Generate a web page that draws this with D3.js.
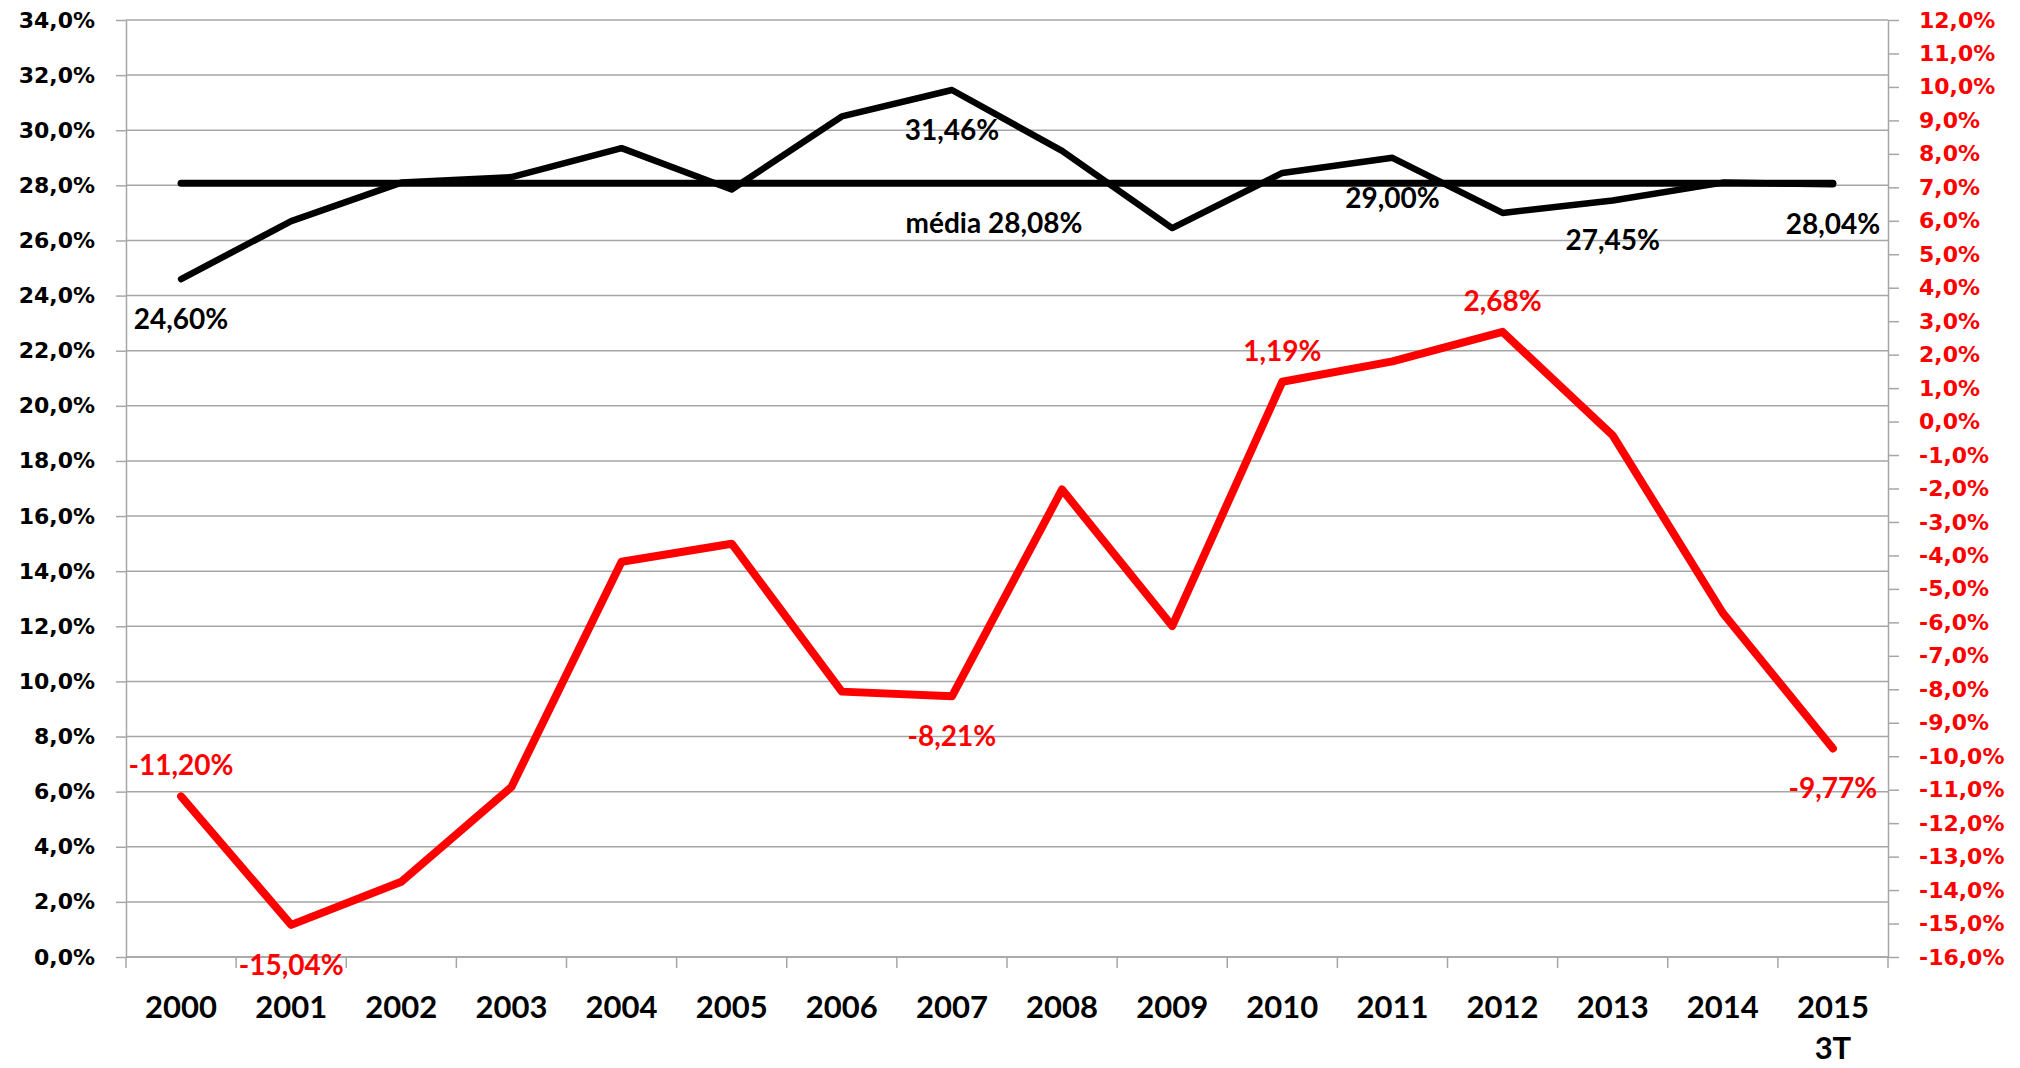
<!DOCTYPE html>
<html>
<head>
<meta charset="utf-8">
<script src="https://cdn.jsdelivr.net/npm/d3@7"></script>
<style>
  body { margin: 0; background: #fff; }
  svg { display: block; }
</style>
</head>
<body>
<div id="chart"></div>
<script>
// categorias
const anos = ["2000", "2001", "2002", "2003", "2004", "2005", "2006", "2007",
              "2008", "2009", "2010", "2011", "2012", "2013", "2014", "2015"];
const subRotulos = { "2015": "3T" };

// linha preta (eixo esquerdo)
const taxa = [24.60, 26.70, 28.10, 28.30, 29.35, 27.85, 30.50, 31.46,
              29.25, 26.45, 28.45, 29.00, 27.00, 27.45, 28.10, 28.04];
const media = 28.08;

// linha vermelha (eixo direito)
const variacao = [-11.20, -15.04, -13.75, -10.92, -4.19, -3.65, -8.07, -8.21,
                  -2.03, -6.11, 1.19, 1.80, 2.68, -0.41, -5.72, -9.77];

// ticks
const ticksEsq = [0, 2, 4, 6, 8, 10, 12, 14, 16, 18, 20, 22, 24, 26, 28, 30, 32, 34];
const ticksDir = [-16, -15, -14, -13, -12, -11, -10, -9, -8, -7, -6, -5, -4, -3, -2,
                  -1, 0, 1, 2, 3, 4, 5, 6, 7, 8, 9, 10, 11, 12];

// quais pontos têm rótulo
const rotulosTaxa = [0, 7, 11, 13, 15];
const rotulosVar = [[0, "acima"], [1, "abaixo"], [7, "abaixo"], [10, "acima"], [12, "acima"], [15, "abaixo"]];

const width = 2020, height = 1068;
const margemEsq = 126, margemDir = 1888, margemSup = 20, margemInf = 957;
const cinza = "#a6a6a6";
const vermelho = "#ff0000";

const fmt1 = d => d.toFixed(1).replace(".", ",") + "%";
const fmt2 = d => d.toFixed(2).replace(".", ",") + "%";

const svg = d3.select("#chart").append("svg")
  .attr("width", width)
  .attr("height", height);

const x = d3.scaleBand().domain(anos).range([margemEsq, margemDir]).padding(0);
const xc = d => x(d) + x.bandwidth() / 2;
const yL = d3.scaleLinear().domain([0, 34]).range([margemInf, margemSup]);
const yR = d3.scaleLinear().domain([-16, 12]).range([margemInf, margemSup]);

// grade
svg.append("g")
  .selectAll("line")
  .data(ticksEsq)
  .join("line")
  .attr("x1", margemEsq)
  .attr("x2", margemDir)
  .attr("y1", d => yL(d))
  .attr("y2", d => yL(d))
  .attr("stroke", cinza)
  .attr("stroke-width", 1.5);

// eixo esquerdo
const eixoEsq = svg.append("g")
  .attr("transform", `translate(${margemEsq},0)`)
  .call(d3.axisLeft(yL).tickValues(ticksEsq).tickFormat(fmt1).tickSize(10).tickSizeOuter(0).tickPadding(21));
eixoEsq.selectAll("line, path").attr("stroke", cinza).attr("stroke-width", 1.5);
eixoEsq.selectAll("text")
  .style("font-family", "DejaVu Sans")
  .style("font-weight", "bold")
  .style("font-size", "22px")
  .attr("fill", "#000");

// eixo direito
const eixoDir = svg.append("g")
  .attr("transform", `translate(${margemDir},0)`)
  .call(d3.axisRight(yR).tickValues(ticksDir).tickFormat(fmt1).tickSize(11).tickSizeOuter(0).tickPadding(20));
eixoDir.selectAll("line, path").attr("stroke", cinza).attr("stroke-width", 1.5);
eixoDir.selectAll("text")
  .style("font-family", "DejaVu Sans")
  .style("font-weight", "bold")
  .style("font-size", "22px")
  .attr("fill", vermelho);

// eixo x: linha, ticks entre categorias, rótulos
const eixoX = svg.append("g");
eixoX.append("line")
  .attr("x1", margemEsq).attr("x2", margemDir)
  .attr("y1", margemInf).attr("y2", margemInf)
  .attr("stroke", cinza).attr("stroke-width", 1.5);
eixoX.selectAll("line.tick")
  .data(anos.map(d => x(d)).concat([margemDir]))
  .join("line")
  .attr("class", "tick")
  .attr("x1", d => d).attr("x2", d => d)
  .attr("y1", margemInf).attr("y2", margemInf + 11)
  .attr("stroke", cinza).attr("stroke-width", 1.5);
const rotX = eixoX.selectAll("text")
  .data(anos)
  .join("text")
  .attr("x", d => xc(d))
  .attr("y", 1018)
  .attr("text-anchor", "middle")
  .style("font-family", "Lato")
  .style("font-weight", "bold")
  .style("font-size", "31px")
  .text(d => d);
rotX.filter(d => subRotulos[d])
  .append("tspan")
  .attr("x", d => xc(d))
  .attr("dy", 41)
  .text(d => subRotulos[d]);

// linha da média
svg.append("line")
  .attr("x1", xc(anos[0]))
  .attr("x2", xc(anos[anos.length - 1]))
  .attr("y1", yL(media))
  .attr("y2", yL(media))
  .attr("stroke", "#000")
  .attr("stroke-width", 7)
  .attr("stroke-linecap", "round");

// linha preta
const linhaTaxa = d3.line().x((d, i) => xc(anos[i])).y(d => yL(d));
svg.append("path")
  .datum(taxa)
  .attr("d", linhaTaxa)
  .attr("fill", "none")
  .attr("stroke", "#000")
  .attr("stroke-width", 6.5)
  .attr("stroke-linejoin", "round")
  .attr("stroke-linecap", "round");

// linha vermelha
const linhaVar = d3.line().x((d, i) => xc(anos[i])).y(d => yR(d));
svg.append("path")
  .datum(variacao)
  .attr("d", linhaVar)
  .attr("fill", "none")
  .attr("stroke", vermelho)
  .attr("stroke-width", 8)
  .attr("stroke-linejoin", "round")
  .attr("stroke-linecap", "round");

// rótulos de dados
const rotulos = svg.append("g")
  .style("font-family", "Lato")
  .style("font-weight", "bold")
  .style("font-size", "28px")
  .attr("text-anchor", "middle");

rotulos.selectAll("text.taxa")
  .data(rotulosTaxa)
  .join("text")
  .attr("class", "taxa")
  .attr("x", i => xc(anos[i]))
  .attr("y", i => yL(taxa[i]) + 40)
  .attr("dy", "0.35em")
  .attr("fill", "#000")
  .text(i => fmt2(taxa[i]));

rotulos.append("text")
  .attr("x", xc(anos[7]) + 42)
  .attr("y", yL(media) + 40)
  .attr("dy", "0.35em")
  .attr("fill", "#000")
  .text("média " + fmt2(media));

rotulos.selectAll("text.var")
  .data(rotulosVar)
  .join("text")
  .attr("class", "var")
  .attr("x", d => xc(anos[d[0]]))
  .attr("y", d => yR(variacao[d[0]]) + (d[1] === "acima" ? -31 : 40))
  .attr("dy", "0.35em")
  .attr("fill", vermelho)
  .text(d => fmt2(variacao[d[0]]));
</script>
</body>
</html>
